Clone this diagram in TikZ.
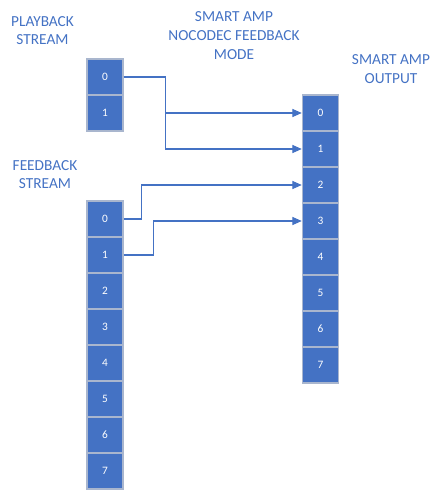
\documentclass[tikz,border=0pt]{standalone}
\usepackage{fontspec}
\setmainfont{Carlito}
\usetikzlibrary{arrows.meta}

\definecolor{ampblue}{HTML}{4472C4}
\definecolor{cellrim}{HTML}{A9B6CE}

\tikzset{
  cell/.style={draw=cellrim,line width=1.1pt,fill=ampblue,text=white,
    minimum width=27pt,minimum height=27pt,inner sep=0pt,
    font=\fontsize{8.5}{10}\selectfont},
  title/.style={text=ampblue,align=center,font=\fontsize{11.5}{14}\selectfont},
  route/.style={ampblue,line width=0.8pt,-{Triangle[length=7pt,width=6pt]}}
}

\begin{document}
\begin{tikzpicture}[x=0.75pt,y=-0.75pt]
    \useasboundingbox (0,0) rectangle (445,490);
    % labels
    \node[title] (playlbl) at (42.5,30.5) {PLAYBACK\\STREAM};
    \node[title] (modelbl) at (234,35.5) {SMART AMP\\NOCODEC FEEDBACK\\MODE};
    \node[title] (outlbl) at (391,69) {SMART AMP\\OUTPUT};
    \node[title] (fblbl) at (45,174.5) {FEEDBACK\\STREAM};
    % stream buffers
    \foreach \i in {0,1}
      \node[cell] (p\i) at (105,{77+36*\i}) {\i};
    \foreach \i in {0,...,7}
      \node[cell] (f\i) at (105,{219+36*\i}) {\i};
    \foreach \i in {0,...,7}
      \node[cell] (o\i) at (320.5,{113+36*\i}) {\i};
    % routing
    \draw[route] (p0.east) -- ++(42,0) |- (o0.west);
    \draw[route] (p0.east) -- ++(42,0) |- (o1.west);
    \draw[route] (f0.east) -- ++(18,0) |- (o2.west);
    \draw[route] (f1.east) -- ++(30,0) |- (o3.west);
  \end{tikzpicture}
\end{document}
